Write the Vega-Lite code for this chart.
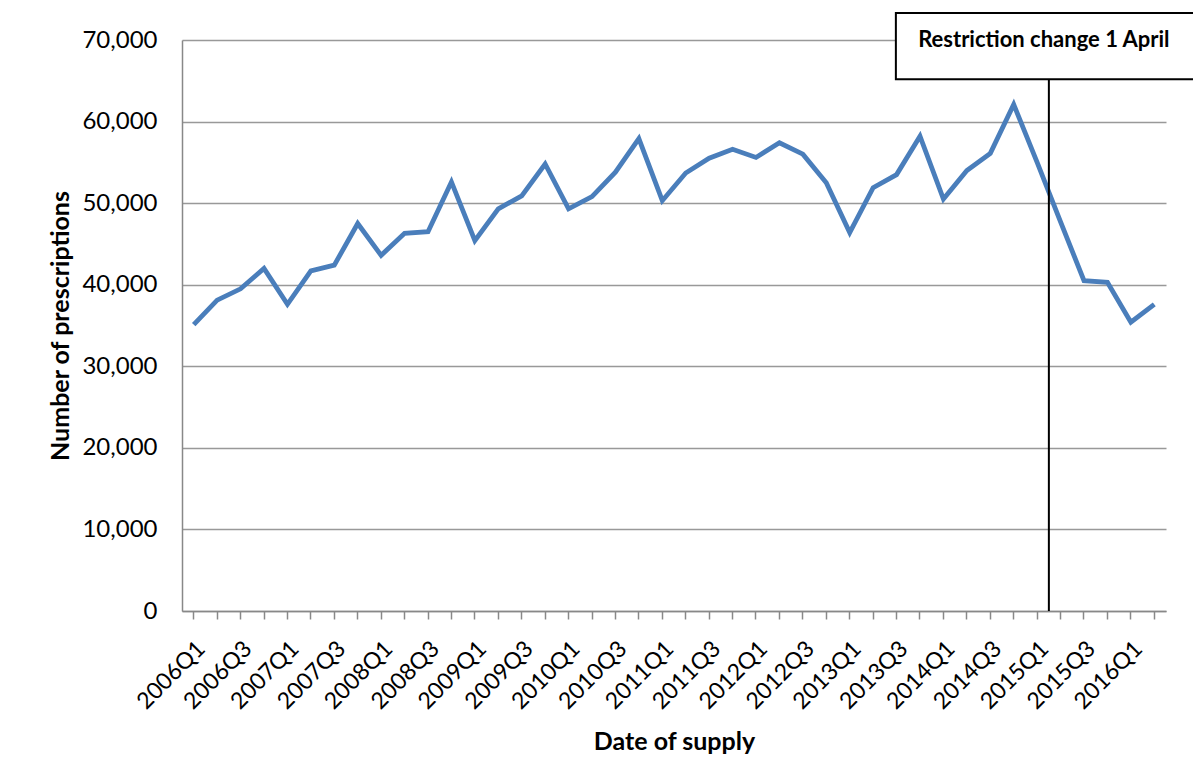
{
  "$schema": "https://vega.github.io/schema/vega-lite/v6.json",
  "autosize": "none",
  "width": 984,
  "height": 571,
  "padding": {"left": 182, "top": 40, "right": 27, "bottom": 170},
  "background": "white",
  "config": {"font": "Lato", "view": {"stroke": null}},
  "datasets": {
    "rx": [
      {"quarter": "2006Q1", "prescriptions": 35100},
      {"quarter": "2006Q2", "prescriptions": 38100},
      {"quarter": "2006Q3", "prescriptions": 39500},
      {"quarter": "2006Q4", "prescriptions": 42000},
      {"quarter": "2007Q1", "prescriptions": 37600},
      {"quarter": "2007Q2", "prescriptions": 41700},
      {"quarter": "2007Q3", "prescriptions": 42400},
      {"quarter": "2007Q4", "prescriptions": 47500},
      {"quarter": "2008Q1", "prescriptions": 43600},
      {"quarter": "2008Q2", "prescriptions": 46300},
      {"quarter": "2008Q3", "prescriptions": 46500},
      {"quarter": "2008Q4", "prescriptions": 52600},
      {"quarter": "2009Q1", "prescriptions": 45400},
      {"quarter": "2009Q2", "prescriptions": 49300},
      {"quarter": "2009Q3", "prescriptions": 50900},
      {"quarter": "2009Q4", "prescriptions": 54800},
      {"quarter": "2010Q1", "prescriptions": 49300},
      {"quarter": "2010Q2", "prescriptions": 50800},
      {"quarter": "2010Q3", "prescriptions": 53800},
      {"quarter": "2010Q4", "prescriptions": 57900},
      {"quarter": "2011Q1", "prescriptions": 50300},
      {"quarter": "2011Q2", "prescriptions": 53700},
      {"quarter": "2011Q3", "prescriptions": 55500},
      {"quarter": "2011Q4", "prescriptions": 56600},
      {"quarter": "2012Q1", "prescriptions": 55600},
      {"quarter": "2012Q2", "prescriptions": 57400},
      {"quarter": "2012Q3", "prescriptions": 56000},
      {"quarter": "2012Q4", "prescriptions": 52500},
      {"quarter": "2013Q1", "prescriptions": 46400},
      {"quarter": "2013Q2", "prescriptions": 51900},
      {"quarter": "2013Q3", "prescriptions": 53500},
      {"quarter": "2013Q4", "prescriptions": 58200},
      {"quarter": "2014Q1", "prescriptions": 50500},
      {"quarter": "2014Q2", "prescriptions": 54000},
      {"quarter": "2014Q3", "prescriptions": 56100},
      {"quarter": "2014Q4", "prescriptions": 62100},
      {"quarter": "2015Q1", "prescriptions": 55000},
      {"quarter": "2015Q2", "prescriptions": 47700},
      {"quarter": "2015Q3", "prescriptions": 40500},
      {"quarter": "2015Q4", "prescriptions": 40300},
      {"quarter": "2016Q1", "prescriptions": 35400},
      {"quarter": "2016Q2", "prescriptions": 37600}
    ],
    "note": [
      {"quarter": "2015Q2", "label": "Restriction change 1 April", "top": 73300, "bottom": 65200, "labelY": 70000, "base": 0}
    ]
  },
  "layer": [
    {
      "data": {"name": "rx"},
      "mark": {"type": "line", "color": "#4a7ebb", "strokeWidth": 4.8},
      "encoding": {
        "x": {
          "field": "quarter", "type": "ordinal",
          "scale": {"type": "band", "paddingInner": 0, "paddingOuter": 0},
          "axis": {
            "title": "Date of supply",
            "titleFontSize": 25, "titleFontWeight": "bold", "titleColor": "black", "titlePadding": 16,
            "labelAngle": -45, "labelFontSize": 23, "labelColor": "black", "labelPadding": 18,
            "labelOverlap": false,
            "labelExpr": "indexof(datum.value, 'Q1') > 0 || indexof(datum.value, 'Q3') > 0 ? datum.value : ''",
            "tickColor": "#888888", "tickWidth": 1.5, "tickSize": 8,
            "domainColor": "#888888", "domainWidth": 1.5, "grid": false
          }
        },
        "y": {
          "field": "prescriptions", "type": "quantitative",
          "scale": {"domain": [0, 70000], "nice": false},
          "axis": {
            "title": "Number of prescriptions",
            "titleFontSize": 25, "titleFontWeight": "bold", "titleColor": "black", "titlePadding": 8,
            "values": [0, 10000, 20000, 30000, 40000, 50000, 60000, 70000],
            "labelExpr": "datum.value == 0 ? '0' : floor(datum.value / 1000) + ',000'",
            "labelFontSize": 24, "labelColor": "black", "labelPadding": 25,
            "ticks": false, "domainColor": "#888888", "domainWidth": 1.5,
            "grid": true, "gridColor": "#999999", "gridWidth": 1.5
          }
        }
      }
    },
    {
      "data": {"name": "note"},
      "mark": {"type": "rule", "color": "black", "strokeWidth": 2, "xOffset": -11.7},
      "encoding": {
        "x": {"field": "quarter", "type": "ordinal"},
        "y": {"field": "bottom", "type": "quantitative"},
        "y2": {"field": "base"}
      }
    },
    {
      "data": {"name": "note"},
      "mark": {"type": "rect", "fill": "white", "stroke": "black", "strokeWidth": 2, "width": 306, "xOffset": -11.7},
      "encoding": {
        "x": {"field": "quarter", "type": "ordinal"},
        "y": {"field": "top", "type": "quantitative"},
        "y2": {"field": "bottom"}
      }
    },
    {
      "data": {"name": "note"},
      "mark": {"type": "text", "fontSize": 22, "fontWeight": "bold", "color": "black", "align": "center", "baseline": "middle", "xOffset": -16.7},
      "encoding": {
        "x": {"field": "quarter", "type": "ordinal"},
        "y": {"field": "labelY", "type": "quantitative"},
        "text": {"field": "label"}
      }
    }
  ]
}
